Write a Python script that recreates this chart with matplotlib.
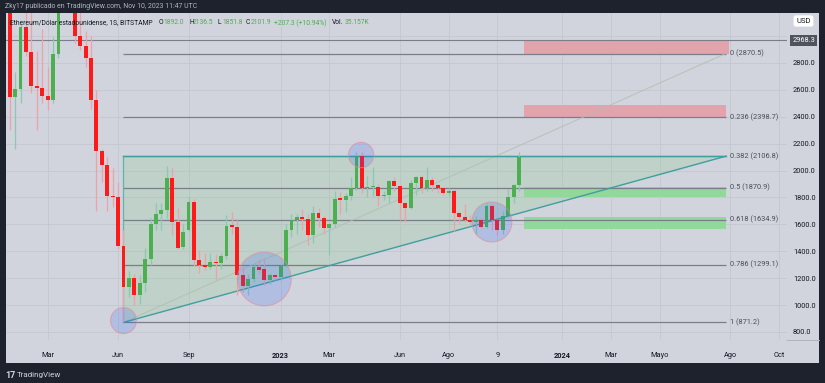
import matplotlib
matplotlib.use("Agg")
import matplotlib.pyplot as plt
import matplotlib.dates as mdates
import matplotlib.transforms as mtransforms
from matplotlib.patches import Rectangle, Polygon
from matplotlib.lines import Line2D
import pandas as pd

plt.rcParams['font.family'] = ['Roboto', 'DejaVu Sans']

# ---------------- data ----------------
first_week = "2022-01-17"
opens = [3330, 2549, 2605, 3068, 2882, 2629, 2614, 2555, 2525, 2867,
         3300, 3520, 3210, 3000, 2930, 2835, 2525, 2148, 2044, 1813,
         1806, 1440, 1132, 1204, 1075, 1168, 1343, 1603, 1681, 1707,
         1943, 1620, 1430, 1560, 1769, 1335, 1298, 1281, 1323, 1310,
         1365, 1595, 1578, 1224, 1144, 1194, 1286, 1268, 1186, 1224,
         1208, 1294, 1558, 1633, 1655, 1640, 1520, 1686, 1650, 1570,
         1600, 1796, 1780, 1810, 1870, 2107, 1870, 1875, 1880, 1811,
         1815, 1920, 1888, 1760, 1720, 1905, 1950, 1870, 1930, 1890,
         1870, 1830, 1845, 1685, 1655, 1635, 1620, 1630, 1583, 1735,
         1635, 1557, 1665, 1800, 1892.0]
highs = [3380, 2730, 3100, 3280, 3200, 2890, 3050, 2770, 2990, 3350,
         3580, 3580, 3300, 3180, 3040, 3000, 2600, 2160, 2100, 2019,
         1917, 1560, 1250, 1230, 1225, 1425, 1650, 1756, 1760, 2034,
         2019, 1722, 1600, 1804, 1790, 1413, 1390, 1390, 1380, 1390,
         1669, 1694, 1633, 1290, 1230, 1310, 1345, 1350, 1240, 1230,
         1300, 1600, 1680, 1680, 1715, 1680, 1740, 1720, 1665, 1610,
         1850, 1840, 1830, 1950, 2135, 2140, 1960, 2029, 1900, 1850,
         1930, 1950, 1890, 1770, 1930, 1960, 1970, 2030, 1950, 1900,
         1870, 1870, 1860, 1690, 1750, 1670, 1660, 1650, 1750, 1750,
         1640, 1700, 1860, 1900, 2136.5]
lows = [2300, 2160, 2500, 2850, 2580, 2300, 2500, 2450, 2500, 2840,
        3280, 3170, 2950, 2900, 2770, 2460, 1702, 1915, 1702, 1730,
        1420, 874, 1060, 1000, 1010, 1100, 1300, 1558, 1560, 1650,
        1520, 1420, 1420, 1550, 1290, 1242, 1260, 1270, 1190, 1270,
        1340, 1530, 1075, 1100, 1075, 1170, 1230, 1150, 1160, 1190,
        1190, 1285, 1510, 1530, 1560, 1450, 1460, 1580, 1530, 1370,
        1580, 1680, 1690, 1780, 1855, 1830, 1800, 1810, 1740, 1780,
        1760, 1850, 1630, 1620, 1715, 1820, 1830, 1850, 1850, 1830,
        1820, 1810, 1550, 1610, 1620, 1605, 1530, 1570, 1570, 1560,
        1520, 1530, 1650, 1760, 1851.8]
closes = [2549, 2605, 3068, 2882, 2629, 2614, 2555, 2525, 2867, 3300,
          3520, 3210, 3000, 2930, 2835, 2525, 2148, 2044, 1813, 1806,
          1440, 1135, 1204, 1075, 1168, 1343, 1603, 1681, 1707, 1943,
          1620, 1427, 1540, 1769, 1335, 1298, 1280, 1323, 1310, 1365,
          1588, 1578, 1224, 1144, 1194, 1286, 1262, 1186, 1224, 1208,
          1294, 1558, 1633, 1655, 1640, 1520, 1686, 1650, 1570, 1600,
          1789, 1780, 1810, 1870, 2107, 1870, 1875, 1880, 1811, 1815,
          1920, 1888, 1760, 1720, 1905, 1950, 1870, 1930, 1890, 1870,
          1830, 1845, 1685, 1655, 1635, 1620, 1630, 1583, 1735, 1635,
          1557, 1665, 1800, 1892, 2101.9]

fib_ratios = ["0", "0.236", "0.382", "0.5", "0.618", "0.786", "1"]
fib_levels = [2870.5, 2398.7, 2106.8, 1870.9, 1634.9, 1299.1, 871.2]
fib_start = "2022-06-13"
fib_end = "2024-07-30"

hline_price = 2968.3

red_zones = [(2870.5, 2968.3), (2398.7, 2490.0)]
red_zone_ends = ["2024-08-03", "2024-07-30"]
green_zones = [(1804.0, 1876.0), (1566.0, 1655.0)]
zone_start = "2023-11-13"
green_zone_end = "2024-07-30"

circle_dates = ["2022-06-13", "2022-12-12", "2023-04-16", "2023-10-02"]
circle_prices = [885, 1194, 2116, 1618]

price_ticks = [800, 1000, 1200, 1400, 1600, 1800, 2000, 2200, 2400, 2600, 2800]
time_tick_dates = ["2022-03-07", "2022-06-06", "2022-09-05", "2023-01-02", "2023-03-06",
                   "2023-06-05", "2023-08-07", "2023-10-09", "2024-01-01", "2024-03-04",
                   "2024-05-06", "2024-08-05", "2024-10-07"]
time_tick_labels = ["Mar", "Jun", "Sep", "2023", "Mar", "Jun", "Ago", "9", "2024",
                    "Mar", "Mayo", "Ago", "Oct"]

title_text = "Zky17 publicado en TradingView.com, Nov 10, 2023 11:47 UTC"
symbol_text = "Ethereum/Dólar estadounidense, 1S, BITSTAMP"
ohlc_labels = ["O", "H", "L", "C"]
ohlc_values = ["1892.0", "2136.5", "1851.8", "2101.9"]
change_text = "+207.3 (+10.94%)"
vol_text = "35.157K"

# ---------------- figure ----------------
W, H = 825, 383
BG = '#d1d4dc'
DARK = '#1e222d'
fig = plt.figure(figsize=(W / 100, H / 100), dpi=100)
fig.patch.set_facecolor(DARK)
fig.patches.append(Rectangle((6 / W, 1 - 363 / H), (819 - 6) / W, (363 - 13) / H,
                             transform=fig.transFigure, facecolor=BG,
                             edgecolor='none', zorder=-5))

ax = fig.add_axes([6 / W, 1 - 340 / H, (787 - 6) / W, (340 - 13) / H])
ax.set_zorder(1)
ax.set_facecolor(BG)
for s in ax.spines.values():
    s.set_visible(False)

def dn(s):
    return mdates.date2num(pd.Timestamp(s))

base = dn("2022-06-13")
ax.set_xlim(base - 151.8, base + 857.2)
ax.set_ylim(740.5, 3171.7)

dates = pd.date_range(first_week, periods=len(closes), freq="7D")
xs = mdates.date2num(dates)

# grid
ax.set_xticks([dn(d) for d in time_tick_dates])
ax.set_xticklabels(time_tick_labels)
ax.set_yticks(price_ticks)
ax.set_yticklabels([f"{v:.1f}" for v in price_ticks])
ax.grid(True, color='#c5c8d0', lw=0.6, zorder=0.5)
ax.axhline(3000, color='#c5c8d0', lw=0.6, zorder=0.5)
ax.set_axisbelow(True)
ax.yaxis.tick_right()
ax.tick_params(axis='y', length=0, pad=4.3, labelsize=5.3, labelcolor='#131722')
ax.tick_params(axis='x', length=0, pad=8.5, labelsize=5.3, labelcolor='#131722')
for i, lab in enumerate(ax.get_xticklabels()):
    if time_tick_labels[i] in ("2023", "2024"):
        lab.set_fontweight('bold')

fs, fe = dn(fib_start), dn(fib_end)

# triangle
tri = Polygon([(fs, fib_levels[-1]), (fs, fib_levels[2]), (fe, fib_levels[2])],
              closed=True, facecolor=(0.50, 0.78, 0.52, 0.22),
              edgecolor='none', zorder=1)
ax.add_patch(tri)
ax.plot([fs, fe], [fib_levels[-1], fib_levels[2]], color='#3f9f9c', lw=1.0, zorder=3)
ax.plot([fs, fs], [fib_levels[-1], fib_levels[2]], color='#5fb3ae', lw=0.9, zorder=3)
ax.plot([fs, fe], [fib_levels[2], fib_levels[2]], color='#3f9f9c', lw=1.0, zorder=3.2)

# zones
zs = dn(zone_start)
for (lo, hi), e in zip(red_zones, red_zone_ends):
    ax.add_patch(Rectangle((zs, lo), dn(e) - zs, hi - lo,
                           facecolor='#e2a3ad', edgecolor='none', zorder=1.5))
for lo, hi in green_zones:
    ax.add_patch(Rectangle((zs, lo), dn(green_zone_end) - zs, hi - lo,
                           facecolor='#92d89a', edgecolor='none', zorder=1.5))

# fib lines and labels
ax.hlines(fib_levels, fs, fe, color='#7b7e88', lw=0.9, zorder=2)
for r, lv in zip(fib_ratios, fib_levels):
    ax.text(fe + 5, lv, f"{r} ({lv})", fontsize=5.3, color='#4a4e5a',
            va='center', ha='left', zorder=6)
ax.plot([fs, fe], [fib_levels[-1], fib_levels[0]], color='#b0c0b0', lw=0.6, zorder=2.1)

# horizontal line
ax.axhline(hline_price, color='#7b7e88', lw=0.8, zorder=2)

# candles
up_c, dn_c = '#4caf50', '#ff1a1a'
colors = [up_c if c >= o else dn_c for o, c in zip(opens, closes)]
wick_colors = ['#8cc9b0' if c >= o else '#f0a0a8' for o, c in zip(opens, closes)]
ax.vlines(xs, lows, highs, colors=wick_colors, lw=0.9, zorder=3.5)
bottoms = [min(o, c) for o, c in zip(opens, closes)]
heights = [max(abs(c - o), 7) for o, c in zip(opens, closes)]
ax.bar(xs, heights, bottom=bottoms, width=5.0, color=colors, zorder=4, linewidth=0)

# circles
sizes = [350, 1500, 330, 830]
ax.scatter([dn(d) for d in circle_dates], circle_prices, s=sizes,
           facecolor=(0.16, 0.38, 1.0, 0.19), edgecolor=(0.88, 0.55, 0.6, 0.6),
           lw=0.8, zorder=5)

# ---------------- texts ----------------
renderer = fig.canvas.get_renderer()

def fit_size(text, width_px, base=6.0):
    t = fig.text(0, 0, text, fontsize=base)
    w = t.get_window_extent(renderer).width
    t.remove()
    return base * width_px / w

tsize = fit_size(title_text, 192)
fig.text(5 / W, 1 - 7 / H, title_text, fontsize=tsize, color='#b2b5be',
         va='center', ha='left')

lsize = fit_size(symbol_text, 145)
ly = 1 - 23 / H
fig.text(10 / W, ly, symbol_text, fontsize=lsize, color='#131722', va='center',
         ha='left', zorder=5)
GREEN_TXT = '#4caf50'
for lab, val, xl, xv in zip(ohlc_labels, ohlc_values, [159, 189, 218, 246], [163, 193, 222, 251]):
    fig.text(xl / W, ly, lab, fontsize=lsize, color='#131722', va='center', ha='left', zorder=5)
    fig.text(xv / W, ly, val, fontsize=lsize, color=GREEN_TXT, va='center', ha='left', zorder=5)
fig.text(274 / W, ly, change_text, fontsize=lsize, color=GREEN_TXT, va='center', ha='left', zorder=5)
fig.text(332 / W, ly, "Vol.", fontsize=lsize, color='#131722', va='center', ha='left', zorder=5)
fig.text(345 / W, ly, vol_text, fontsize=lsize, color=GREEN_TXT, va='center', ha='left', zorder=5)

# price axis boxes
trans = mtransforms.blended_transform_factory(fig.transFigure, ax.transData)
ax.text(803.5 / W, hline_price, f"{hline_price}", transform=trans, fontsize=5.3,
        color='white', ha='center', va='center', zorder=10, clip_on=False,
        bbox=dict(boxstyle='square,pad=0.25', facecolor='#50535e', edgecolor='none'))
fig.text(803.5 / W, 1 - 21 / H, "USD", fontsize=5.5, color='#131722', ha='center',
         va='center', zorder=5, bbox=dict(boxstyle='round,pad=0.35,rounding_size=0.3',
                                          facecolor='white', edgecolor='none'))

fig.lines.append(Line2D([787 / W, 819 / W], [1 - 339.5 / H, 1 - 339.5 / H],
                        transform=fig.transFigure, color='#aeb1b9', lw=0.7, zorder=5))

# logo
fig.text(5 / W, 1 - 375 / H, "17", fontsize=6.5, fontweight='bold', color='#d1d4dc',
         va='center', ha='left')
fig.text(17 / W, 1 - 375 / H, "TradingView", fontsize=5.8, color='#d1d4dc',
         va='center', ha='left')

fig.savefig("out.png", dpi=100, facecolor=fig.get_facecolor())
